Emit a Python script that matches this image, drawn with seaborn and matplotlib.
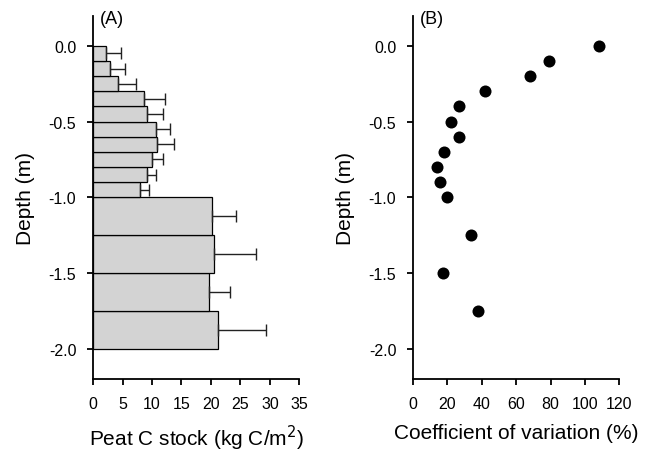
import numpy as np
import pandas as pd
import seaborn as sns
import matplotlib
matplotlib.use("Agg")
import matplotlib.pyplot as plt

# layer top / bottom depth (m)
layer_top = [0.0, -0.1, -0.2, -0.3, -0.4, -0.5, -0.6, -0.7, -0.8, -0.9, -1.0, -1.25, -1.5, -1.75]
layer_bottom = [-0.1, -0.2, -0.3, -0.4, -0.5, -0.6, -0.7, -0.8, -0.9, -1.0, -1.25, -1.5, -1.75, -2.0]

# peat C stock (kg C/m2) and its SD
c_stock = [2.2, 2.9, 4.3, 8.6, 9.2, 10.7, 10.8, 10.0, 9.2, 8.0, 20.2, 20.5, 19.7, 21.2]
c_stock_sd = [2.5, 2.5, 3.0, 3.6, 2.6, 2.4, 3.0, 1.8, 1.4, 1.5, 4.0, 7.1, 3.6, 8.1]

# coefficient of variation (%)
cv = [108, 79, 68, 42, 27, 22, 27, 18, 14, 16, 19.5, 34, 17.5, 38]

df = pd.DataFrame({
    'top': layer_top,
    'bottom': layer_bottom,
    'stock': c_stock,
    'sd': c_stock_sd,
    'cv': cv,
})
df['mid'] = (df['top'] + df['bottom']) / 2
edges = sorted(set(layer_top) | set(layer_bottom))

sns.set_style('ticks', rc={
    'text.color': 'black', 'axes.labelcolor': 'black',
    'xtick.color': 'black', 'ytick.color': 'black',
    'axes.edgecolor': 'black',
})
plt.rcParams['font.family'] = ['Liberation Sans', 'DejaVu Sans']
plt.rcParams['axes.linewidth'] = 1.3
plt.rcParams['xtick.major.width'] = 1.3
plt.rcParams['ytick.major.width'] = 1.3
plt.rcParams['xtick.major.size'] = 4
plt.rcParams['ytick.major.size'] = 4

fig = plt.figure(figsize=(6.63, 4.56), dpi=100)
ax1 = fig.add_axes([0.1403, 0.1667, 0.3113, 0.797])
ax2 = fig.add_axes([0.6229, 0.1667, 0.3112, 0.797])

# panel A: horizontal bars with varying thickness
sns.histplot(data=df, y='mid', weights='stock', bins=edges, ax=ax1,
             color='#d3d3d3', edgecolor='black', linewidth=0.9, alpha=1)
ax1.errorbar(df['stock'], df['mid'], xerr=[np.zeros(len(df)), df['sd']],
             fmt='none', ecolor='#222222', elinewidth=1, capsize=4, capthick=1)
ax1.set_xlim(0, 35)
ax1.set_xticks(np.arange(0, 36, 5))
ax1.set_xlabel('Peat C stock (kg C/m$^2$)', fontsize=15, labelpad=9)

# panel B: CV points
sns.scatterplot(data=df, x='cv', y='top', ax=ax2, color='black', s=75,
                edgecolor='black', linewidth=0)
ax2.set_xlim(0, 120)
ax2.set_xticks(np.arange(0, 121, 20))
ax2.set_xlabel('Coefficient of variation (%)', fontsize=15, labelpad=9)

for ax, tag in [(ax1, '(A)'), (ax2, '(B)')]:
    ax.set_ylim(-2.2, 0.2)
    ax.set_yticks([0.0, -0.5, -1.0, -1.5, -2.0])
    ax.set_yticklabels(['0.0', '-0.5', '-1.0', '-1.5', '-2.0'])
    ax.set_ylabel('Depth (m)', fontsize=15, labelpad=10)
    ax.tick_params(labelsize=11.5, pad=8)
    sns.despine(ax=ax)
    ax.text(0.035, 1.015, tag, transform=ax.transAxes, fontsize=13,
            ha='left', va='top')

fig.savefig('out.png', dpi=100)
